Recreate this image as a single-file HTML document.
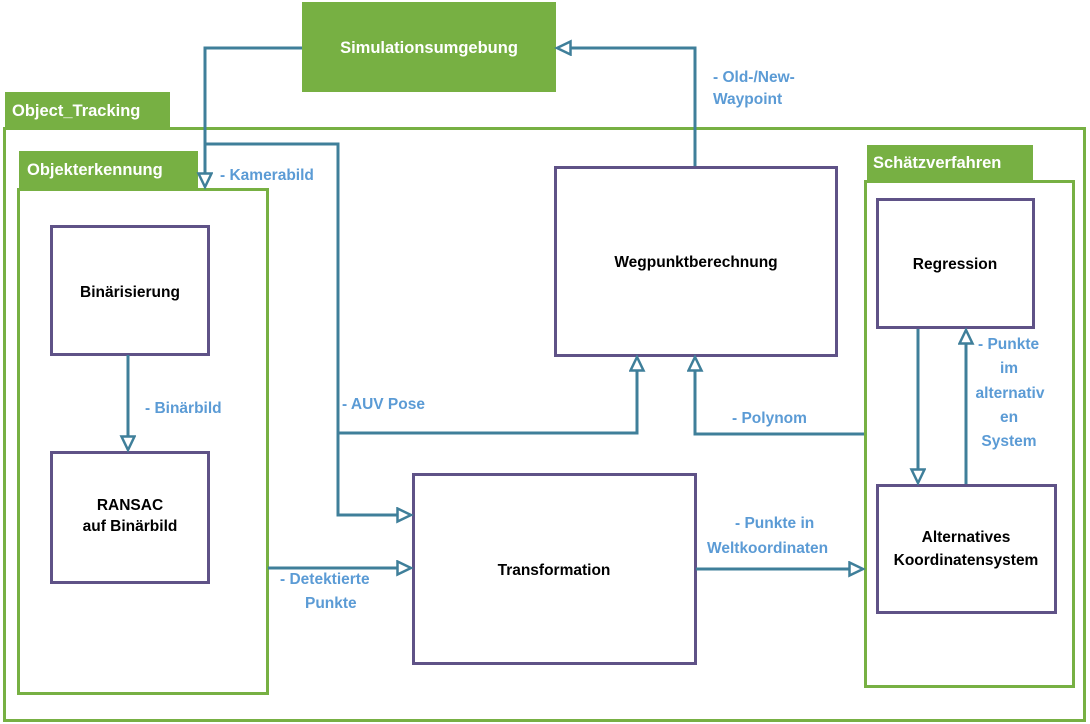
<!DOCTYPE html>
<html><head><meta charset="utf-8"><style>
html,body{margin:0;padding:0;background:#fff;}
svg{display:block;}
text{font-family:"Liberation Sans",sans-serif;font-weight:bold;}
.l{fill:#5b9bd5;font-size:15.5px;}
.b{fill:#000;font-size:15.5px;text-anchor:middle;}
.t{fill:#fff;font-size:16.5px;}
</style></head><body>
<svg width="1090" height="724" viewBox="0 0 1090 724" xmlns="http://www.w3.org/2000/svg">
<defs>
<marker id="a" markerWidth="18" markerHeight="18" refX="15" refY="8" orient="auto" markerUnits="userSpaceOnUse">
<path d="M1.5,1.5 L15,8 L1.5,14.5 Z" fill="#fff" stroke="#3f7f9a" stroke-width="2.5"/>
</marker>
</defs>
<rect x="302" y="2" width="254" height="90" fill="#77b043"/>
<text x="429" y="53" class="t" text-anchor="middle" font-size="15.5">Simulationsumgebung</text>
<rect x="5" y="92" width="165" height="36" fill="#77b043"/>
<text x="12" y="116" class="t" font-size="17.5">Object_Tracking</text>
<rect x="4.5" y="128.5" width="1080" height="592" fill="none" stroke="#77b043" stroke-width="3"/>
<rect x="19" y="151" width="179" height="37" fill="#77b043"/>
<text x="27" y="175" class="t">Objekterkennung</text>
<rect x="18.5" y="189.5" width="249" height="504" fill="none" stroke="#77b043" stroke-width="3"/>
<rect x="867" y="145" width="166" height="36" fill="#77b043"/>
<text x="873" y="168" class="t">Schätzverfahren</text>
<rect x="865.5" y="181.5" width="208" height="505" fill="none" stroke="#77b043" stroke-width="3"/>
<g fill="#fff" stroke="#5f5287" stroke-width="3">
<rect x="51.5" y="226.5" width="157" height="128"/>
<rect x="51.5" y="452.5" width="157" height="130"/>
<rect x="555.5" y="167.5" width="281" height="188"/>
<rect x="413.5" y="474.5" width="282" height="189"/>
<rect x="877.5" y="199.5" width="156" height="128"/>
<rect x="877.5" y="485.5" width="178" height="127"/>
</g>
<text x="130" y="297" class="b">Binärisierung</text>
<text x="130" y="510" class="b">RANSAC</text>
<text x="130" y="531" class="b">auf Binärbild</text>
<text x="696" y="267" class="b">Wegpunktberechnung</text>
<text x="554" y="575" class="b">Transformation</text>
<text x="955" y="269" class="b">Regression</text>
<text x="966" y="542" class="b">Alternatives</text>
<text x="966" y="565" class="b">Koordinatensystem</text>
<g fill="none" stroke="#3f7f9a" stroke-width="3">
<polyline points="302,48 205,48 205,187" marker-end="url(#a)"/>
<polyline points="205,144 338,144 338,515 411,515" marker-end="url(#a)"/>
<polyline points="338,433 637,433 637,357" marker-end="url(#a)"/>
<polyline points="695,166 695,48 557,48" marker-end="url(#a)"/>
<polyline points="864,434 695,434 695,357" marker-end="url(#a)"/>
<polyline points="128,355 128,450" marker-end="url(#a)"/>
<polyline points="268,568 411,568" marker-end="url(#a)"/>
<polyline points="696,569 863,569" marker-end="url(#a)"/>
<polyline points="918,329 918,483" marker-end="url(#a)"/>
<polyline points="966,484 966,330" marker-end="url(#a)"/>
</g>
<text x="220" y="180" class="l">- Kamerabild</text>
<text x="713" y="82" class="l">- Old-/New-</text>
<text x="713" y="104" class="l">Waypoint</text>
<text x="145" y="413" class="l">- Binärbild</text>
<text x="342" y="409" class="l">- AUV Pose</text>
<text x="732" y="423" class="l">- Polynom</text>
<text x="735" y="528" class="l">- Punkte in</text>
<text x="707" y="553" class="l">Weltkoordinaten</text>
<text x="280" y="584" class="l">- Detektierte</text>
<text x="305" y="608" class="l">Punkte</text>
<text x="978" y="349" class="l">- Punkte</text>
<text x="1009" y="373" class="l" text-anchor="middle">im</text>
<text x="1010" y="398" class="l" text-anchor="middle">alternativ</text>
<text x="1009" y="422" class="l" text-anchor="middle">en</text>
<text x="1009" y="446" class="l" text-anchor="middle">System</text>
</svg>
</body></html>
